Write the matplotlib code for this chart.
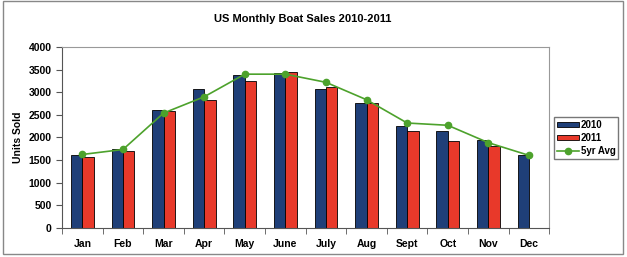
import numpy as np
import matplotlib.pyplot as plt
from matplotlib.patches import Rectangle

plt.rcParams['font.family'] = ['Liberation Sans', 'DejaVu Sans']

months = ['Jan', 'Feb', 'Mar', 'Apr', 'May', 'June', 'July', 'Aug', 'Sept', 'Oct', 'Nov', 'Dec']
sales_2010 = [1610, 1750, 2605, 3070, 3380, 3415, 3070, 2755, 2255, 2135, 1945, 1605]
sales_2011 = [1575, 1700, 2590, 2830, 3255, 3445, 3120, 2755, 2150, 1930, 1810, np.nan]
avg_5yr = [1625, 1735, 2540, 2900, 3400, 3400, 3220, 2835, 2320, 2270, 1885, 1605]

blue = '#1F3F78'
red = '#E8392A'
green = '#4DA22C'

fig = plt.figure(figsize=(6.27, 2.57), dpi=100)
ax = fig.add_axes([0.099, 0.113, 0.777, 0.704])

x = np.arange(len(months))
w = 0.28
b1 = ax.bar(x - w / 2, sales_2010, w, color=blue, edgecolor='black', linewidth=0.6, label='2010')
b2 = ax.bar(x + w / 2, sales_2011, w, color=red, edgecolor='black', linewidth=0.6, label='2011')
ln, = ax.plot(x, avg_5yr, color=green, marker='o', markersize=4.5, linewidth=1.2, label='5yr Avg')

ax.set_xlim(-0.5, len(months) - 0.5)
ax.set_ylim(0, 4000)
ax.set_yticks(np.arange(0, 4001, 500))
ax.set_xticks(x)
ax.set_xticklabels(months, fontsize=7.5, fontweight='bold')
ax.set_xticks(np.arange(-0.5, len(months), 1), minor=True)
ax.tick_params(axis='x', which='major', length=0, pad=8)
ax.tick_params(axis='x', which='minor', length=4, direction='out', color='#555555')
ax.tick_params(axis='y', length=4, labelsize=7.5, color='#555555')
for lbl in ax.get_yticklabels():
    lbl.set_fontweight('bold')
ax.set_ylabel('Units Sold', fontsize=7.5, fontweight='bold')
for s in ax.spines.values():
    s.set_color('#999999')
    s.set_linewidth(0.8)
ax.spines['bottom'].set_color('#555555')
ax.spines['left'].set_color('#555555')

fig.text(0.483, 0.926, 'US Monthly Boat Sales 2010-2011', ha='center', va='center',
         fontsize=8, fontweight='bold')

leg = fig.legend([b1, b2, ln], ['2010', '2011', '5yr Avg'], loc='upper left',
                 bbox_to_anchor=(0.884, 0.545), fontsize=7,
                 frameon=True, fancybox=False, edgecolor='#555555',
                 handlelength=2.2, handleheight=0.4, borderpad=0.3, labelspacing=0.3,
                 handletextpad=0.2, borderaxespad=0)
for t in leg.get_texts():
    t.set_fontweight('bold')

fig.patches.append(Rectangle((0.005, 0.01), 0.988, 0.985, transform=fig.transFigure,
                             fill=False, edgecolor='#888888', linewidth=1))

fig.savefig('out.png', dpi=100)
